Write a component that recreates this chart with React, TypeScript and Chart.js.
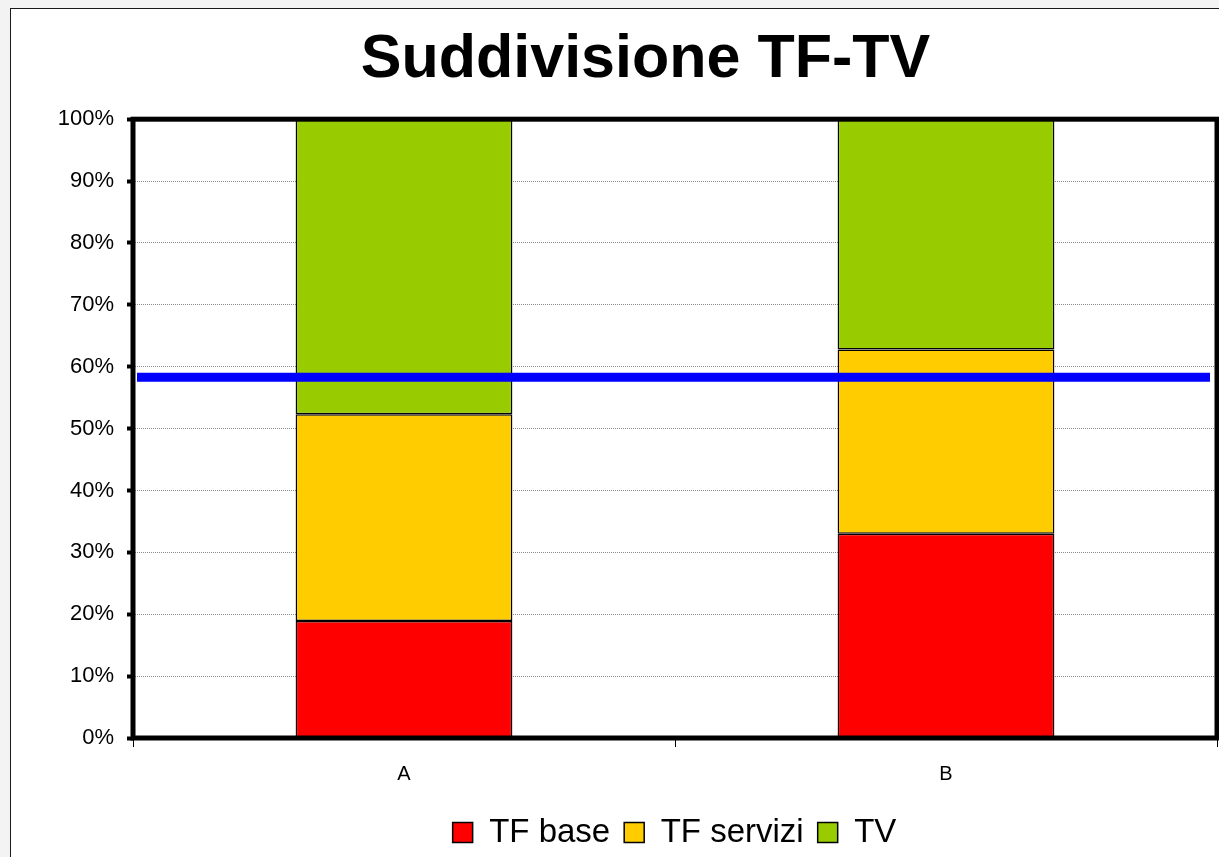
import React, { useEffect, useRef } from "react";
import { Chart, registerables } from "chart.js";

Chart.register(...registerables);

const chartTitle = "Suddivisione TF-TV";
const categories = ["A", "B"];
const seriesLabels = ["TF base", "TF servizi", "TV"];
const seriesColors = ["#FF0000", "#FFCC00", "#99CC00"];
const tfBase = [18.9, 33.0];
const tfServizi = [33.4, 29.8];
const tv = [47.7, 37.2];
const referenceValue = 58.3;
const yMin = 0;
const yMax = 100;
const yStep = 10;

const FONT = "'Liberation Sans', Arial, Helvetica, sans-serif";

const backgroundPlugin = {
  id: "pageBackground",
  beforeDraw(chart: any) {
    const { ctx, width, height } = chart;
    ctx.save();
    ctx.fillStyle = "#f3f3f3";
    ctx.fillRect(0, 0, width, height);
    ctx.fillStyle = "#ffffff";
    ctx.fillRect(10, 8, width, height);
    ctx.strokeStyle = "#1a1a1a";
    ctx.lineWidth = 1;
    ctx.strokeRect(10.5, 8.5, width + 20, height + 20);
    ctx.restore();
  },
};

const framePlugin = {
  id: "frameAndReference",
  afterLayout(chart: any) {
    if (chart.titleBlock) {
      chart.titleBlock.left += 37;
      chart.titleBlock.right += 37;
    }
    if (chart.legend) {
      chart.legend.left += 66;
      chart.legend.right += 66;
    }
  },
  afterDatasetsDraw(chart: any) {
    const { ctx, chartArea } = chart;
    const { left, top, right, bottom } = chartArea;
    ctx.save();
    ctx.strokeStyle = "#000000";
    ctx.lineWidth = 5;
    ctx.strokeRect(left, top, right - left, bottom - top);
    const y = chart.scales.y.getPixelForValue(referenceValue);
    ctx.strokeStyle = "#0000FF";
    ctx.lineWidth = 9;
    ctx.beginPath();
    ctx.moveTo(left + 4, y);
    ctx.lineTo(right - 7, y);
    ctx.stroke();
    ctx.restore();
  },
};

export default function App() {
  const canvasRef = useRef<HTMLCanvasElement | null>(null);

  useEffect(() => {
    const canvas = canvasRef.current;
    if (!canvas) return;
    const seriesData = [tfBase, tfServizi, tv];
    const chart = new Chart(canvas, {
      type: "bar",
      data: {
        labels: categories,
        datasets: seriesLabels.map((label, i) => ({
          label,
          data: seriesData[i],
          backgroundColor: seriesColors[i],
          borderColor: "#000000",
          borderWidth: 1.5,
          borderSkipped: false,
          categoryPercentage: 1,
          barPercentage: 0.4,
        })),
      },
      options: {
        animation: false,
        responsive: false,
        maintainAspectRatio: false,
        layout: { padding: { left: 0, right: 2, top: 0, bottom: -2 } },
        plugins: {
          title: {
            display: true,
            text: chartTitle,
            color: "#000000",
            font: { family: FONT, size: 61, weight: "bold" },
            padding: { top: 24, bottom: 22 },
          },
          legend: {
            display: true,
            position: "bottom",
            labels: {
              color: "#000000",
              font: { family: FONT, size: 33 },
              boxWidth: 20,
              boxHeight: 20,
              padding: 14,
            },
          },
          tooltip: { enabled: false },
        },
        scales: {
          x: {
            stacked: true,
            grid: {
              offset: true,
              drawOnChartArea: false,
              drawTicks: true,
              tickLength: 9,
              tickColor: "#000000",
              tickWidth: 1,
            },
            border: { display: false },
            ticks: {
              color: "#000000",
              font: { family: FONT, size: 20 },
              padding: 15,
            },
            afterFit(scale: any) {
              scale.height = 64;
            },
          },
          y: {
            stacked: true,
            min: yMin,
            max: yMax,
            grid: {
              color: "#8a8a8a",
              lineWidth: 1,
              drawTicks: true,
              tickLength: 6,
              tickWidth: 4,
              tickColor: "#000000",
            },
            border: { display: false, dash: [1, 1] },
            ticks: {
              stepSize: yStep,
              color: "#000000",
              font: { family: FONT, size: 22 },
              padding: 13,
              callback: (v: any) => `${v}%`,
            },
            afterFit(scale: any) {
              scale.width = 133;
            },
          },
        },
      },
      plugins: [backgroundPlugin, framePlugin],
    });
    return () => chart.destroy();
  }, []);

  return (
    <div
      style={{
        position: "fixed",
        left: 0,
        top: 0,
        width: 1219,
        height: 857,
        overflow: "hidden",
      }}
    >
      <canvas ref={canvasRef} width={1219} height={857} style={{ display: "block" }} />
    </div>
  );
}
